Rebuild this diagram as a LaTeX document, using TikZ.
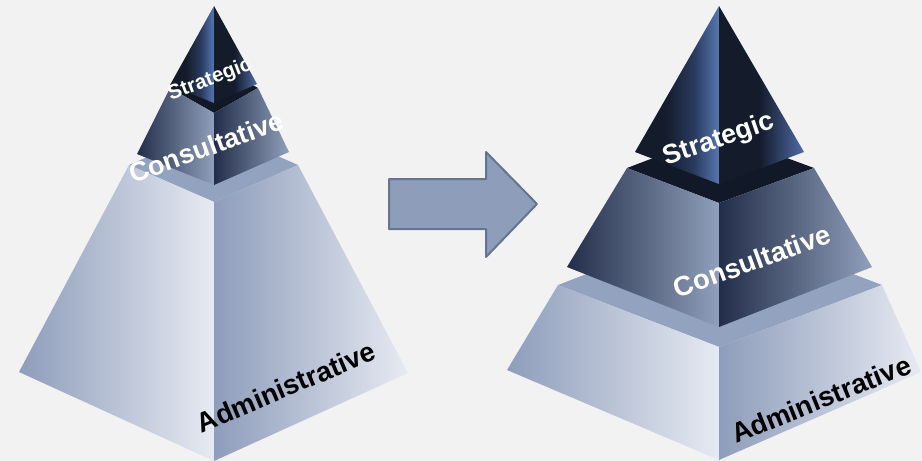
\documentclass[tikz,border=0pt]{standalone}
\usepackage{fontspec}
\setmainfont{Liberation Sans}
\definecolor{bg}{HTML}{F2F2F2}
\definecolor{stdark}{HTML}{141C2C}
\definecolor{stmid}{HTML}{2A3A5E}
\definecolor{stblue}{HTML}{5577B2}
\definecolor{stblueb}{HTML}{4F6CA8}
\definecolor{cotop}{HTML}{111827}
\definecolor{codark}{HTML}{222D49}
\definecolor{comid}{HTML}{5A6F96}
\definecolor{colight}{HTML}{909FBB}
\definecolor{adtop}{HTML}{93A2BE}
\definecolor{addark}{HTML}{8E9DBB}
\definecolor{adlight}{HTML}{E6EAF2}
\definecolor{arrowfill}{HTML}{8E9DB9}
\definecolor{arrowline}{HTML}{65748F}
% the middle 25bp--75bp of each shading spans the face it fills
\pgfdeclarehorizontalshading{stleftface}{100bp}{color(0bp)=(stdark); color(43bp)=(stdark); color(60bp)=(stmid); color(75bp)=(stblue); color(100bp)=(stblue)}
\pgfdeclarehorizontalshading{strightface}{100bp}{color(0bp)=(stdark); color(49bp)=(stdark); color(75bp)=(stblueb); color(100bp)=(stblueb)}
\begin{document}
\begin{tikzpicture}[x=1pt,y=-1pt,line join=round,
  label/.style={font=\bfseries, inner sep=0pt},
  whitelabel/.style={label, text=white},
  blacklabel/.style={label, text=black},
  stL/.style={shading=stleftface},
  stR/.style={shading=strightface},
  coface/.style={left color=codark, middle color=comid, right color=colight},
  adface/.style={left color=addark, right color=adlight}]

\fill[bg] (0,0) rectangle (922,461);
\useasboundingbox (0,0) rectangle (922,461);

% ---------- left pyramid ----------
% administrative tier
\fill[adtop] (129,165) -- (214,128) -- (298,165) -- (214,202) -- cycle;
\shade[adface] (129,165) -- (214,202) -- (214,461) -- (19,372) -- cycle;
\shade[adface] (214,202) -- (298,165) -- (408,373) -- (214,461) -- cycle;
% consultative tier
\fill[cotop] (170,88) -- (214,63) -- (258,88) -- (214,113) -- cycle;
\shade[coface] (170,88) -- (214,113) -- (214,185) -- (137,154) -- cycle;
\shade[coface] (214,113) -- (258,88) -- (289,152) -- (214,185) -- cycle;
% strategic tier
\shade[stL] (214,6) -- (214,103) -- (170,85) -- cycle;
\shade[stR] (214,6) -- (257,84) -- (214,103) -- cycle;

\node[whitelabel, font=\bfseries\fontsize{20.5}{20.5}\selectfont, rotate=21] (lstr) at (210,80) {Strategic};
\node[whitelabel, font=\bfseries\fontsize{27}{27}\selectfont, rotate=20] (lcon) at (206,147) {Consultative};
\node[blacklabel, font=\bfseries\fontsize{27.5}{27.5}\selectfont, rotate=23] (ladm) at (286,387) {Administrative};

% ---------- arrow ----------
\draw[fill=arrowfill, draw=arrowline, line width=2pt]
  (389,179) -- (486,179) -- (486,152) -- (537,204) -- (486,257) -- (486,229) -- (389,229) -- cycle;

% ---------- right pyramid ----------
% administrative tier
\fill[adtop] (558,285) -- (719,223) -- (882,285) -- (719,347) -- cycle;
\shade[adface] (558,285) -- (719,347) -- (719,460) -- (507,370) -- cycle;
\shade[adface] (719,347) -- (882,285) -- (921,372) -- (719,460) -- cycle;
% consultative tier
\fill[cotop] (627,168) -- (719,133) -- (814,168) -- (719,203) -- cycle;
\shade[coface] (627,168) -- (719,203) -- (719,327) -- (567,267) -- cycle;
\shade[coface] (719,203) -- (814,168) -- (872,267) -- (719,327) -- cycle;
% strategic tier
\shade[stL] (719,6) -- (719,184) -- (635,152) -- cycle;
\shade[stR] (719,6) -- (804,152) -- (719,184) -- cycle;

\node[whitelabel, font=\bfseries\fontsize{27}{27}\selectfont, rotate=19] (rstr) at (719,140) {Strategic};
\node[whitelabel, font=\bfseries\fontsize{27.5}{27.5}\selectfont, rotate=20] (rcon) at (752,261) {Consultative};
\node[blacklabel, font=\bfseries\fontsize{27.5}{27.5}\selectfont, rotate=22] (radm) at (821,399) {Administrative};
\end{tikzpicture}
\end{document}
